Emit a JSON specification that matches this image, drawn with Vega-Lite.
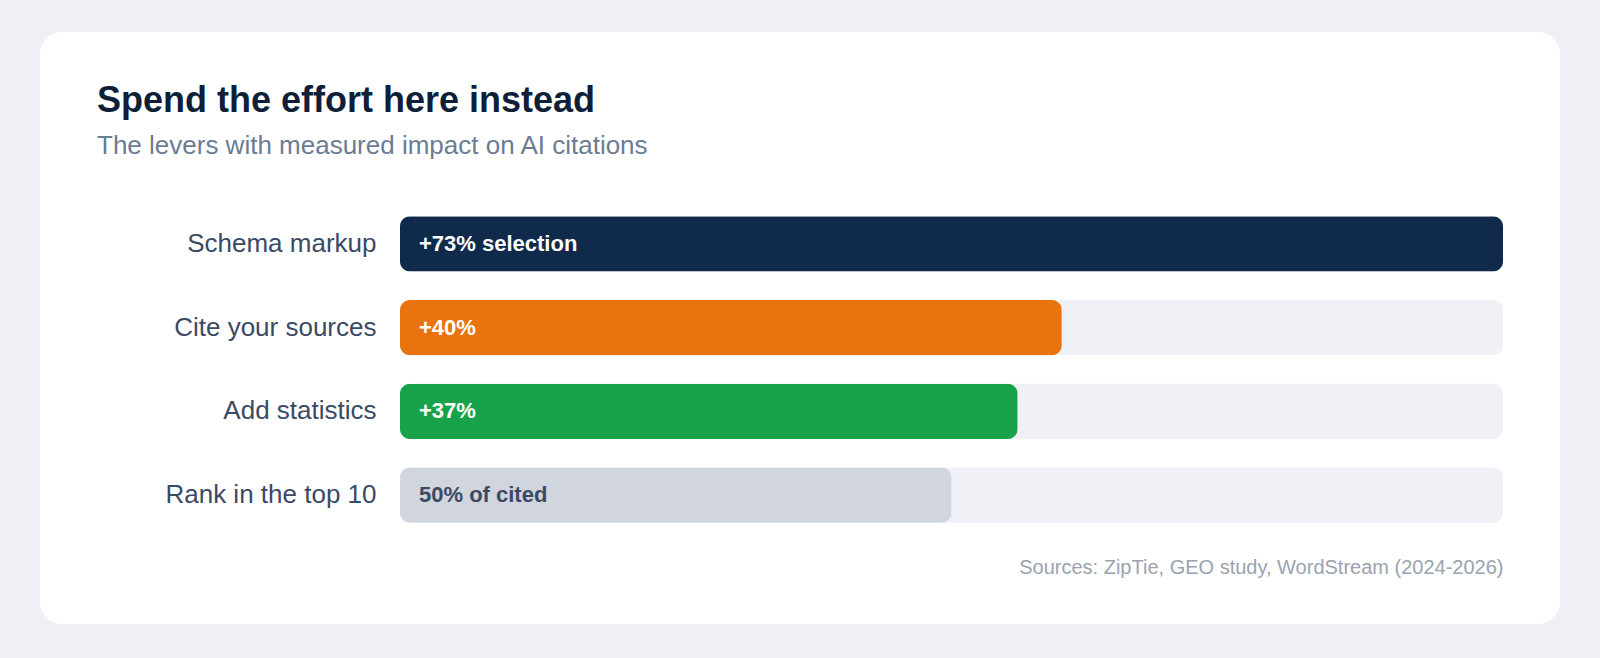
{
  "$schema": "https://vega.github.io/schema/vega-lite/v6.json",
  "width": 1520,
  "height": 592,
  "padding": {"left": 40, "top": 32, "right": 40, "bottom": 34},
  "background": "#eef0f5",
  "title": {
    "text": "Spend the effort here instead",
    "subtitle": "The levers with measured impact on AI citations",
    "anchor": "start",
    "frame": "group",
    "orient": "top",
    "offset": -128,
    "dx": 57,
    "font": "Liberation Sans",
    "fontSize": 36,
    "fontWeight": "bold",
    "color": "#0f1f38",
    "subtitleFont": "Liberation Sans",
    "subtitleFontSize": 26,
    "subtitleColor": "#6b7c93",
    "subtitlePadding": 13
  },
  "config": {
    "view": {"fill": "#ffffff", "stroke": null, "cornerRadius": 22},
    "font": "Liberation Sans"
  },
  "data": {
    "values": [
      {"lever": "Schema markup", "len": 100, "label": "+73% selection", "fill": "#0f2a4a", "ink": "#ffffff"},
      {"lever": "Cite your sources", "len": 60, "label": "+40%", "fill": "#e8730f", "ink": "#ffffff"},
      {"lever": "Add statistics", "len": 56, "label": "+37%", "fill": "#18a34a", "ink": "#ffffff"},
      {"lever": "Rank in the top 10", "len": 50, "label": "50% of cited", "fill": "#d1d5de", "ink": "#3b4a63"}
    ]
  },
  "encoding": {
    "y": {
      "field": "lever",
      "type": "nominal",
      "sort": null,
      "scale": {"range": [170, 505], "paddingInner": 0.343, "paddingOuter": 0.1715},
      "axis": {
        "title": null,
        "orient": "left",
        "offset": -360,
        "labelPadding": 24,
        "labelFontSize": 26,
        "labelLimit": 400,
        "labelColor": "#3b4a63",
        "labelFont": "Liberation Sans",
        "ticks": false,
        "domain": false,
        "grid": false
      }
    }
  },
  "layer": [
    {
      "mark": {"type": "bar", "cornerRadius": 10, "color": "#eff1f6"},
      "encoding": {
        "x": {
          "datum": 100,
          "type": "quantitative",
          "scale": {"domain": [0, 100], "range": [360, 1463]},
          "axis": {
            "title": "Sources: ZipTie, GEO study, WordStream (2024-2026)",
            "orient": "bottom",
            "offset": -77,
            "titleAnchor": "end",
            "titleColor": "#9aa3af",
            "titleFont": "Liberation Sans",
            "titleFontSize": 20,
            "titleFontWeight": "normal",
            "titlePadding": 10,
            "labels": false,
            "ticks": false,
            "domain": false,
            "grid": false
          }
        },
        "x2": {"datum": 0}
      }
    },
    {
      "mark": {"type": "bar", "cornerRadius": 10},
      "encoding": {
        "x": {"field": "len", "type": "quantitative"},
        "color": {"field": "fill", "type": "nominal", "scale": null, "legend": null}
      }
    },
    {
      "mark": {"type": "text", "align": "left", "baseline": "middle", "dx": 19, "fontSize": 22, "fontWeight": "bold", "font": "Liberation Sans"},
      "encoding": {
        "x": {"datum": 0, "type": "quantitative"},
        "text": {"field": "label"},
        "color": {"field": "ink", "type": "nominal", "scale": null, "legend": null}
      }
    }
  ]
}
